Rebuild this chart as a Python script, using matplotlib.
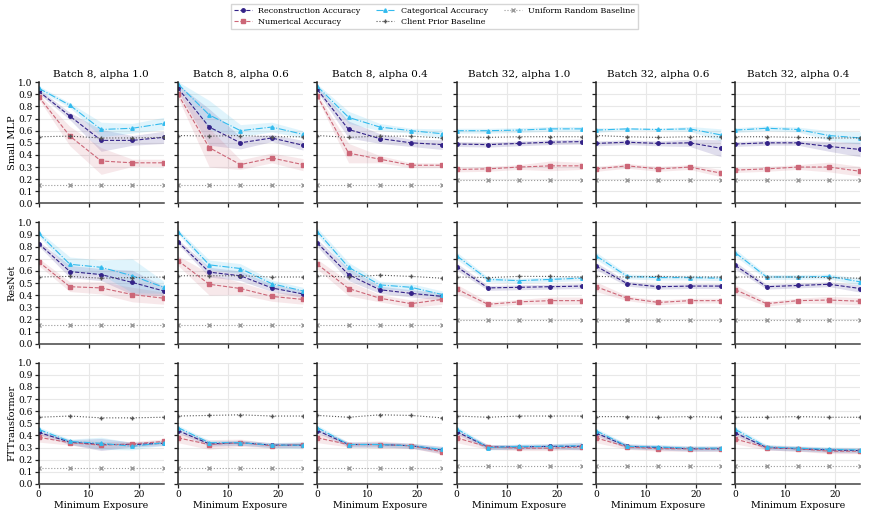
import numpy as np
import matplotlib
matplotlib.use("Agg")
import matplotlib.pyplot as plt

plt.rcParams['font.family'] = ['DejaVu Serif']

# minimum exposure values on the x axis
exposure = [0, 6.25, 12.5, 18.75, 25]
titles = ["Batch 8, alpha 1.0", "Batch 8, alpha 0.6", "Batch 8, alpha 0.4",
          "Batch 32, alpha 1.0", "Batch 32, alpha 0.6", "Batch 32, alpha 0.4"]
models = ["Small MLP", "ResNet", "FTTransformer"]

# ---- Small MLP ----
mlp_rec = [[0.925, 0.72, 0.52, 0.52, 0.545], [0.95, 0.63, 0.50, 0.54, 0.48],
           [0.94, 0.61, 0.535, 0.50, 0.485], [0.49, 0.485, 0.495, 0.505, 0.51],
           [0.495, 0.505, 0.495, 0.50, 0.455], [0.49, 0.50, 0.50, 0.47, 0.445]]
mlp_num = [[0.88, 0.555, 0.35, 0.335, 0.335], [0.90, 0.46, 0.32, 0.375, 0.32],
           [0.885, 0.415, 0.365, 0.315, 0.315], [0.28, 0.285, 0.30, 0.31, 0.31],
           [0.285, 0.31, 0.285, 0.30, 0.25], [0.275, 0.285, 0.30, 0.30, 0.265]]
mlp_cat = [[0.95, 0.81, 0.61, 0.62, 0.66], [0.985, 0.73, 0.60, 0.63, 0.57],
           [0.965, 0.71, 0.63, 0.60, 0.575], [0.60, 0.60, 0.605, 0.615, 0.615],
           [0.605, 0.615, 0.61, 0.615, 0.565], [0.605, 0.62, 0.61, 0.56, 0.54]]
mlp_prior = [[0.55, 0.555, 0.54, 0.54, 0.545], [0.56, 0.555, 0.56, 0.55, 0.55],
             [0.56, 0.545, 0.555, 0.555, 0.54], [0.55, 0.545, 0.55, 0.55, 0.55],
             [0.56, 0.55, 0.545, 0.55, 0.55], [0.55, 0.55, 0.545, 0.54, 0.54]]
mlp_unif = [0.15, 0.15, 0.15, 0.19, 0.19, 0.19]
mlp_rec_sd = [[0.02, 0.03, 0.09, 0.04, 0.05], [0.03, 0.15, 0.05, 0.03, 0.04],
              [0.02, 0.07, 0.04, 0.03, 0.04], [0.02, 0.02, 0.02, 0.02, 0.02],
              [0.02, 0.02, 0.02, 0.03, 0.07], [0.02, 0.02, 0.02, 0.04, 0.06]]
mlp_num_sd = [[0.02, 0.08, 0.11, 0.03, 0.03], [0.03, 0.16, 0.04, 0.04, 0.05],
              [0.02, 0.08, 0.03, 0.02, 0.02], [0.02, 0.02, 0.02, 0.04, 0.03],
              [0.02, 0.02, 0.02, 0.02, 0.03], [0.02, 0.02, 0.02, 0.04, 0.04]]
mlp_cat_sd = [[0.02, 0.02, 0.06, 0.04, 0.05], [0.02, 0.12, 0.05, 0.04, 0.03],
              [0.02, 0.05, 0.03, 0.02, 0.04], [0.02, 0.02, 0.02, 0.02, 0.02],
              [0.02, 0.01, 0.01, 0.02, 0.05], [0.02, 0.02, 0.02, 0.04, 0.05]]

# ---- ResNet ----
res_rec = [[0.825, 0.595, 0.57, 0.505, 0.435], [0.84, 0.59, 0.56, 0.46, 0.41],
           [0.83, 0.57, 0.445, 0.415, 0.39], [0.635, 0.46, 0.465, 0.47, 0.475],
           [0.64, 0.495, 0.47, 0.475, 0.475], [0.645, 0.47, 0.48, 0.49, 0.455]]
res_num = [[0.675, 0.47, 0.46, 0.405, 0.375], [0.685, 0.49, 0.455, 0.39, 0.365],
           [0.655, 0.455, 0.375, 0.33, 0.365], [0.45, 0.325, 0.345, 0.355, 0.355],
           [0.47, 0.375, 0.34, 0.355, 0.355], [0.445, 0.33, 0.355, 0.36, 0.35]]
res_cat = [[0.91, 0.655, 0.63, 0.56, 0.465], [0.925, 0.65, 0.62, 0.495, 0.435],
           [0.925, 0.63, 0.485, 0.465, 0.405], [0.725, 0.53, 0.52, 0.53, 0.54],
           [0.725, 0.555, 0.545, 0.545, 0.54], [0.75, 0.55, 0.55, 0.555, 0.51]]
res_prior = [[0.55, 0.555, 0.54, 0.545, 0.55], [0.56, 0.56, 0.56, 0.55, 0.55],
             [0.56, 0.55, 0.565, 0.555, 0.54], [0.55, 0.545, 0.555, 0.555, 0.55],
             [0.555, 0.55, 0.555, 0.55, 0.55], [0.55, 0.55, 0.55, 0.545, 0.54]]
res_unif = [0.155, 0.155, 0.155, 0.195, 0.195, 0.195]
res_rec_sd = [[0.02, 0.05, 0.05, 0.10, 0.04], [0.02, 0.04, 0.04, 0.03, 0.03],
              [0.03, 0.05, 0.03, 0.03, 0.03], [0.03, 0.02, 0.02, 0.02, 0.02],
              [0.03, 0.02, 0.02, 0.02, 0.02], [0.03, 0.02, 0.02, 0.02, 0.03]]
res_num_sd = [[0.03, 0.04, 0.05, 0.06, 0.05], [0.04, 0.09, 0.05, 0.04, 0.04],
              [0.04, 0.06, 0.03, 0.03, 0.04], [0.04, 0.02, 0.02, 0.03, 0.03],
              [0.04, 0.02, 0.02, 0.02, 0.02], [0.04, 0.02, 0.02, 0.03, 0.03]]
res_cat_sd = [[0.02, 0.06, 0.06, 0.14, 0.05], [0.02, 0.04, 0.04, 0.03, 0.03],
              [0.03, 0.04, 0.03, 0.03, 0.03], [0.03, 0.02, 0.02, 0.02, 0.02],
              [0.03, 0.02, 0.02, 0.02, 0.02], [0.03, 0.02, 0.02, 0.02, 0.03]]

# ---- FTTransformer ----
ftt_rec = [[0.425, 0.345, 0.325, 0.325, 0.335], [0.44, 0.33, 0.34, 0.32, 0.32],
           [0.44, 0.325, 0.325, 0.315, 0.28], [0.43, 0.305, 0.305, 0.31, 0.31],
           [0.42, 0.31, 0.30, 0.29, 0.29], [0.42, 0.30, 0.29, 0.28, 0.275]]
ftt_num = [[0.385, 0.34, 0.32, 0.33, 0.35], [0.38, 0.325, 0.34, 0.315, 0.325],
           [0.38, 0.325, 0.325, 0.315, 0.265], [0.38, 0.305, 0.295, 0.295, 0.305],
           [0.38, 0.305, 0.29, 0.29, 0.29], [0.37, 0.30, 0.29, 0.27, 0.27]]
ftt_cat = [[0.45, 0.35, 0.335, 0.31, 0.34], [0.465, 0.34, 0.34, 0.32, 0.32],
           [0.465, 0.325, 0.325, 0.315, 0.285], [0.455, 0.30, 0.31, 0.31, 0.315],
           [0.44, 0.31, 0.305, 0.295, 0.295], [0.45, 0.305, 0.295, 0.285, 0.28]]
ftt_prior = [[0.55, 0.56, 0.545, 0.545, 0.55], [0.56, 0.565, 0.57, 0.56, 0.56],
             [0.565, 0.55, 0.57, 0.565, 0.545], [0.56, 0.55, 0.56, 0.56, 0.56],
             [0.555, 0.555, 0.55, 0.555, 0.55], [0.55, 0.55, 0.555, 0.55, 0.55]]
ftt_unif = [0.13, 0.13, 0.13, 0.15, 0.15, 0.15]
ftt_rec_sd = [[0.02, 0.02, 0.05, 0.02, 0.02], [0.02, 0.02, 0.02, 0.02, 0.02],
              [0.02, 0.02, 0.02, 0.02, 0.03], [0.02, 0.02, 0.02, 0.02, 0.03],
              [0.02, 0.02, 0.02, 0.02, 0.02], [0.02, 0.02, 0.02, 0.02, 0.02]]
ftt_num_sd = [[0.04, 0.02, 0.03, 0.02, 0.02], [0.04, 0.04, 0.03, 0.02, 0.02],
              [0.04, 0.02, 0.03, 0.02, 0.02], [0.04, 0.02, 0.02, 0.02, 0.02],
              [0.04, 0.02, 0.02, 0.02, 0.02], [0.04, 0.02, 0.02, 0.02, 0.02]]
ftt_cat_sd = [[0.02, 0.02, 0.05, 0.03, 0.02], [0.02, 0.02, 0.02, 0.02, 0.03],
              [0.02, 0.02, 0.02, 0.02, 0.02], [0.02, 0.02, 0.02, 0.02, 0.03],
              [0.02, 0.02, 0.02, 0.02, 0.02], [0.02, 0.02, 0.02, 0.02, 0.02]]

rows = [
    (mlp_rec, mlp_num, mlp_cat, mlp_prior, mlp_unif, mlp_rec_sd, mlp_num_sd, mlp_cat_sd),
    (res_rec, res_num, res_cat, res_prior, res_unif, res_rec_sd, res_num_sd, res_cat_sd),
    (ftt_rec, ftt_num, ftt_cat, ftt_prior, ftt_unif, ftt_rec_sd, ftt_num_sd, ftt_cat_sd),
]

c_rec = '#332288'
c_num = '#CC6677'
c_cat = '#33BBEE'
c_prior = '#555555'
c_unif = '#999999'

fig, axes = plt.subplots(3, 6, figsize=(8.69, 5.17), dpi=100, sharex=True, sharey=True)
fig.subplots_adjust(left=0.0445, right=0.990, top=0.841, bottom=0.064,
                    wspace=0.115, hspace=0.157)

x = np.array(exposure)
for r, (rec, num, cat, prior, unif, rec_sd, num_sd, cat_sd) in enumerate(rows):
    for c in range(6):
        ax = axes[r, c]
        ax.grid(True, color='#e8e8e8', linewidth=0.8, zorder=0)
        ax.set_axisbelow(True)

        for vals, sd, col, mk, ms, ls, lab in [
                (rec[c], rec_sd[c], c_rec, 'o', 2.5, '--', 'Reconstruction Accuracy'),
                (num[c], num_sd[c], c_num, 's', 3.5, '--', 'Numerical Accuracy'),
                (cat[c], cat_sd[c], c_cat, '^', 2.5, '-.', 'Categorical Accuracy')]:
            v = np.array(vals)
            s = np.array(sd)
            ax.fill_between(x, v - s, v + s, color=col, alpha=0.15, linewidth=0)
            ax.plot(x, v, color=col, marker=mk, markersize=ms, linestyle=ls,
                    linewidth=0.8, label=lab)

        ax.plot(x, prior[c], color=c_prior, marker='+', markersize=3,
                linestyle=':', linewidth=0.8, label='Client Prior Baseline')
        ax.plot(x, [unif[c]] * len(x), color=c_unif, marker='x', markersize=2.2,
                linestyle=':', linewidth=0.8, label='Uniform Random Baseline')

        ax.set_xlim(0, 25)
        ax.set_ylim(0, 1.0)
        ax.set_yticks(np.arange(0, 1.01, 0.1))
        ax.set_xticks([0, 10, 20])
        for side in ['top', 'right']:
            ax.spines[side].set_visible(False)
        ax.spines['left'].set_color('#222222')
        ax.spines['bottom'].set_color('#444444')
        ax.spines['left'].set_linewidth(1.1)
        ax.spines['bottom'].set_linewidth(1.1)
        ax.tick_params(labelsize=6.5, length=3, width=0.9, color='#222222', pad=1.5)

        if r == 0:
            ax.set_title(titles[c], fontsize=7.5, pad=4)
        if c == 0:
            ax.set_ylabel(models[r], fontsize=7, labelpad=1)
            ax.set_yticklabels(['%.1f' % t for t in np.arange(0, 1.01, 0.1)])
        if r == 2:
            ax.set_xlabel('Minimum Exposure', fontsize=6.8, labelpad=1)

handles, labels = axes[0, 0].get_legend_handles_labels()
fig.legend(handles, labels,
           loc='upper center', bbox_to_anchor=(0.5, 1.0), ncol=3, fontsize=5.8,
           frameon=True, edgecolor='#cccccc', fancybox=False,
           handlelength=2.2, columnspacing=2.0, borderpad=0.4, labelspacing=0.3)

fig.savefig('out.png', dpi=100)
